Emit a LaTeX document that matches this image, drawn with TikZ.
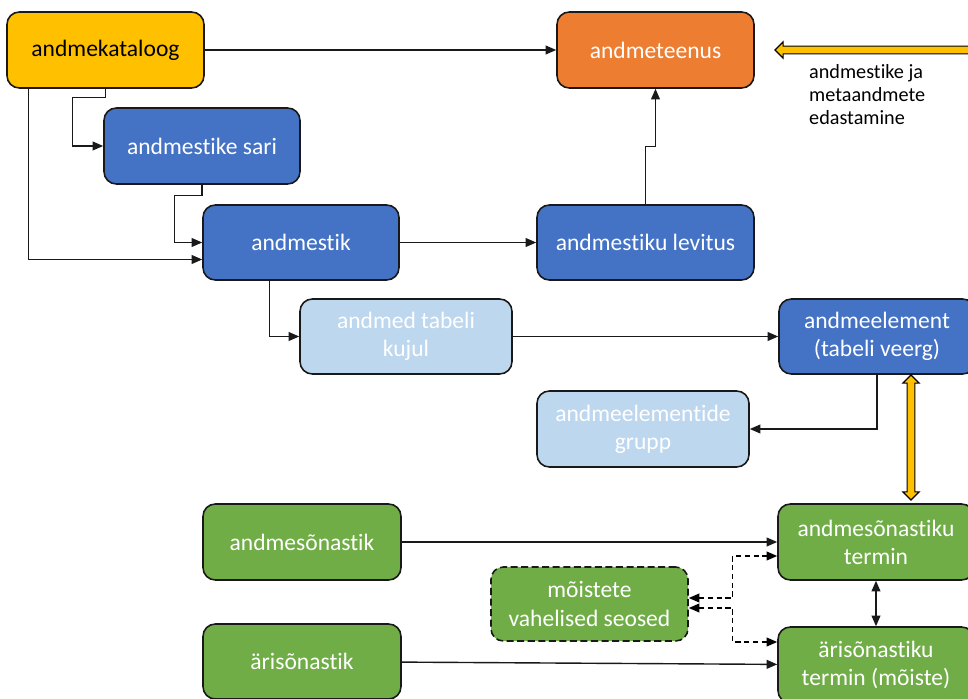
\documentclass[tikz,border=0pt]{standalone}
\usepackage{fontspec}
\setmainfont{Carlito}[Ligatures=NoCommon]
\usepackage{tikz}
\usetikzlibrary{arrows.meta}
\usetikzlibrary{shapes.arrows}
\usetikzlibrary{calc}
\definecolor{kataloogkuld}{HTML}{FFC000}
\definecolor{teenusoranz}{HTML}{ED7D31}
\definecolor{andmesinine}{HTML}{4472C4}
\definecolor{helesinine}{HTML}{BDD7EE}
\definecolor{sonaroheline}{HTML}{70AD47}
\def\px{0.02cm}
\tikzset{basic/.style={draw=black!90,line width=0.9pt,rounded corners=7pt,
                       text=white,align=center,minimum height=76*\px,
                       font=\fontsize{13.4}{16}\selectfont}}
\tikzset{fat/.style={double arrow,draw=black,line width=0.65pt,fill=kataloogkuld,
                     inner sep=1.9pt,double arrow head extend=2.4pt}}

\begin{document}
\begin{tikzpicture}[x=\px, y=-\px, >={Triangle[length=6pt,width=5pt]}]
    \tikzstyle{kataloog}=[basic,fill=kataloogkuld,text=black]
    \tikzstyle{teenus}=[basic,fill=teenusoranz]
    \tikzstyle{sinine}=[basic,fill=andmesinine]
    \tikzstyle{hele}=[basic,fill=helesinine]
    \tikzstyle{roheline}=[basic,fill=sonaroheline]
    \tikzstyle{conn}=[->,line width=0.8pt,draw=black!90]
    \tikzstyle{dashconn}=[<->,line width=0.8pt,dashed,dash pattern=on 3pt off 2pt]
    \useasboundingbox (0,0) rectangle (968,699);

    % Draw the catalogue and the service
    \node[kataloog, minimum width=197*\px] (kataloog) at (105.5,50) {andmekataloog};
    \node[teenus, minimum width=197*\px] (teenus) at (655.5,50) {andmeteenus};

    % Draw the dataset nodes
    \node[sinine, minimum width=196*\px] (sari) at (202,146) {andmestike sari};
    \node[sinine, minimum width=196*\px, minimum height=75*\px] (andmestik) at (301,242.5) {andmestik};
    \node[sinine, minimum width=217*\px, minimum height=75*\px] (levitus) at (645.5,242.5) {andmestiku levitus};
    \node[hele, minimum width=212*\px, minimum height=75*\px] (tabel) at (406,336.5) {andmed tabeli\\kujul};
    \node[sinine, minimum width=196*\px, minimum height=75*\px] (element) at (877,336.5) {andmeelement\\(tabeli veerg)};
    \node[hele, minimum width=212*\px] (grupp) at (643,429) {andmeelementide\\grupp};

    % Draw the vocabulary nodes
    \node[roheline, minimum width=198*\px] (sonastik) at (302,542) {andmesõnastik};
    \node[roheline, minimum width=196*\px] (termin) at (876,542) {andmesõnastiku\\termin};
    \node[roheline, dashed, dash pattern=on 4pt off 2pt, minimum width=197*\px, minimum height=74*\px]
        (seosed) at (589.5,604) {mõistete\\vahelised seosed};
    \node[roheline, minimum width=198*\px, minimum height=75*\px] (ari) at (302,661.5) {ärisõnastik};
    \node[roheline, minimum width=196*\px] (aritermin) at (876,665) {ärisõnastiku\\termin (mõiste)};

    % Legend
    \node[fat, minimum height=210*\px] (legendnool) at (880,50) {};
    \node[align=left, anchor=west, font=\fontsize{11.5}{13.1}\selectfont]
        (legend) at (803,95) {andmestike ja\\metaandmete\\edastamine};

    % Connect the catalogue with the rest
    \draw[conn] (kataloog) -- (teenus);
    \draw[conn] (kataloog.south) -- ++(0,9) -| ($(sari.west)+(-31,0)$) -- (sari.west);
    \draw[conn] ($(kataloog.south west)+(22,0)$) |- ($(andmestik.west)+(0,17)$);
    \draw[conn] (sari.south) -- ++(0,11) -| ($(andmestik.west)+(-28,0)$) -- (andmestik.west);

    % Dataset, distribution and service
    \draw[conn] (andmestik) -- (levitus);
    \draw[conn] (levitus.north) -- ++(0,-58) -| (teenus.south);
    \draw[conn] ($(andmestik.south west)+(67,0)$) |- (tabel.west);
    \draw[conn] (tabel) -- (element);
    \draw[conn] (element.south) |- (grupp.east);

    % Element and term are exchanged
    \node[fat, rotate=90, minimum height=125*\px] (vahetus) at (911,437.5) {};

    % Vocabularies to terms
    \draw[conn] (sonastik) -- (termin);
    \draw[conn] (ari) -- (aritermin);
    \draw[conn, <->] (termin) -- (aritermin);
    \draw[dashconn] ($(seosed.east)+(0,-6)$) -- ++(44,0) |- ($(termin.west)+(0,14)$);
    \draw[dashconn] ($(seosed.east)+(0,4)$) -- ++(44,0) |- ($(aritermin.west)+(0,-23)$);
\end{tikzpicture}
\end{document}
